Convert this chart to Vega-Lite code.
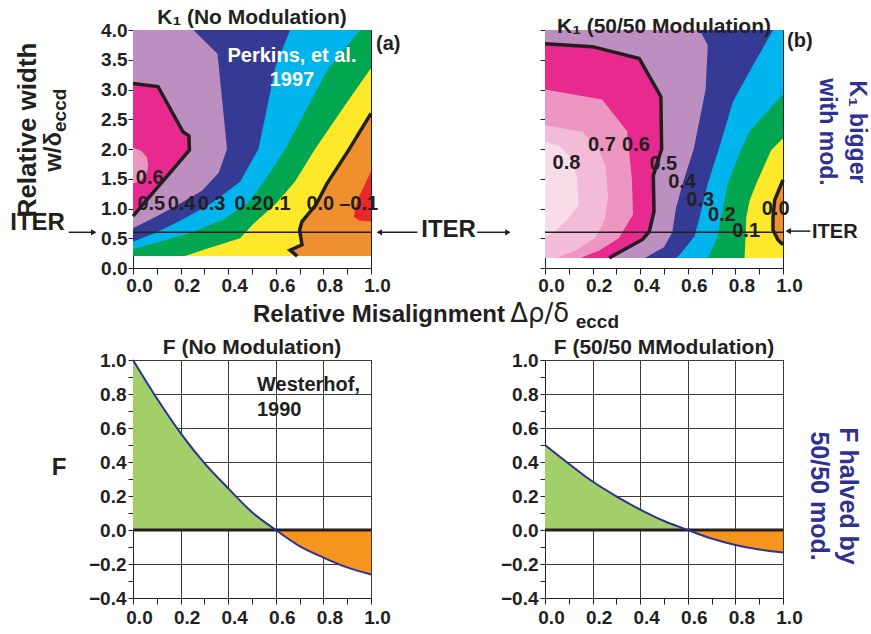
{
"$schema": "https://vega.github.io/schema/vega-lite/v6.json",
"autosize": {"type": "none"},
"padding": {"left": 133, "top": 30, "right": 738, "bottom": 604},
"background": "white",
"config": {
  "font": "Liberation Sans",
  "view": {"stroke": "#231f20", "strokeWidth": 1},
  "axis": {"labelFont": "Liberation Sans", "labelFontSize": 19, "labelFontWeight": "bold", "labelColor": "#231f20", "tickColor": "#231f20", "domainColor": "#231f20", "tickWidth": 1, "domainWidth": 1, "labelFlush": false, "labelOverlap": false, "zindex": 1},
  "title": {"font": "Liberation Sans", "fontSize": 21, "fontWeight": "bold", "color": "#231f20", "frame": "group", "anchor": "middle", "offset": 5, "dy": 12, "baseline": "alphabetic"},
  "text": {"font": "Liberation Sans", "fontWeight": "bold", "color": "#231f20"}
},
"datasets": {
  "contours": [
    {"p":"a","lv":0.7,"x":0,"y":4},{"p":"a","lv":0.7,"x":0,"y":0.2},
    {"p":"a","lv":0.6,"x":0,"y":4},{"p":"a","lv":0.6,"x":0,"y":2.02},{"p":"a","lv":0.6,"x":0.035,"y":1.97},{"p":"a","lv":0.6,"x":0.058,"y":1.86},{"p":"a","lv":0.6,"x":0.064,"y":1.72},{"p":"a","lv":0.6,"x":0.056,"y":1.57},{"p":"a","lv":0.6,"x":0.033,"y":1.47},{"p":"a","lv":0.6,"x":0,"y":1.42},{"p":"a","lv":0.6,"x":0,"y":0.2},
    {"p":"a","lv":0.5,"x":0,"y":4},{"p":"a","lv":0.5,"x":0,"y":3.1},{"p":"a","lv":0.5,"x":0.105,"y":3.05},{"p":"a","lv":0.5,"x":0.21,"y":2.29},{"p":"a","lv":0.5,"x":0.235,"y":2.22},{"p":"a","lv":0.5,"x":0.237,"y":1.98},{"p":"a","lv":0.5,"x":0,"y":0.87},{"p":"a","lv":0.5,"x":0,"y":0.2},
    {"p":"a","lv":0.4,"x":0.253,"y":4},{"p":"a","lv":0.4,"x":0.355,"y":3.6},{"p":"a","lv":0.4,"x":0.395,"y":2.0},{"p":"a","lv":0.4,"x":0.36,"y":1.6},{"p":"a","lv":0.4,"x":0.29,"y":1.3},{"p":"a","lv":0.4,"x":0.2,"y":1.09},{"p":"a","lv":0.4,"x":0.1,"y":0.87},{"p":"a","lv":0.4,"x":0,"y":0.67},{"p":"a","lv":0.4,"x":0,"y":0.2},
    {"p":"a","lv":0.3,"x":0.66,"y":4},{"p":"a","lv":0.3,"x":0.6,"y":3.4},{"p":"a","lv":0.3,"x":0.527,"y":2.0},{"p":"a","lv":0.3,"x":0.45,"y":1.45},{"p":"a","lv":0.3,"x":0.33,"y":1.09},{"p":"a","lv":0.3,"x":0.2,"y":0.8},{"p":"a","lv":0.3,"x":0.1,"y":0.6},{"p":"a","lv":0.3,"x":0,"y":0.44},{"p":"a","lv":0.3,"x":0,"y":0.2},
    {"p":"a","lv":0.2,"x":0.955,"y":4},{"p":"a","lv":0.2,"x":0.82,"y":3.35},{"p":"a","lv":0.2,"x":0.64,"y":2.0},{"p":"a","lv":0.2,"x":0.55,"y":1.45},{"p":"a","lv":0.2,"x":0.485,"y":1.1},{"p":"a","lv":0.2,"x":0.38,"y":0.82},{"p":"a","lv":0.2,"x":0.25,"y":0.6},{"p":"a","lv":0.2,"x":0.12,"y":0.45},{"p":"a","lv":0.2,"x":0,"y":0.32},{"p":"a","lv":0.2,"x":0,"y":0.2},
    {"p":"a","lv":0.1,"x":1,"y":4},{"p":"a","lv":0.1,"x":1,"y":3.36},{"p":"a","lv":0.1,"x":0.885,"y":2.7},{"p":"a","lv":0.1,"x":0.765,"y":2.0},{"p":"a","lv":0.1,"x":0.68,"y":1.45},{"p":"a","lv":0.1,"x":0.6,"y":1.08},{"p":"a","lv":0.1,"x":0.5,"y":0.72},{"p":"a","lv":0.1,"x":0.45,"y":0.5},{"p":"a","lv":0.1,"x":0.3,"y":0.31},{"p":"a","lv":0.1,"x":0.218,"y":0.2},
    {"p":"a","lv":0,"x":1,"y":4},{"p":"a","lv":0,"x":1,"y":2.6},{"p":"a","lv":0,"x":0.906,"y":1.98},{"p":"a","lv":0,"x":0.815,"y":1.42},{"p":"a","lv":0,"x":0.77,"y":1.07},{"p":"a","lv":0,"x":0.71,"y":0.78},{"p":"a","lv":0,"x":0.7,"y":0.64},{"p":"a","lv":0,"x":0.71,"y":0.39},{"p":"a","lv":0,"x":0.66,"y":0.3},{"p":"a","lv":0,"x":0.69,"y":0.2},
    {"p":"a","lv":-0.1,"x":1,"y":4},{"p":"a","lv":-0.1,"x":1,"y":1.62},{"p":"a","lv":-0.1,"x":0.95,"y":1.2},{"p":"a","lv":-0.1,"x":0.935,"y":1.0},{"p":"a","lv":-0.1,"x":0.927,"y":0.86},{"p":"a","lv":-0.1,"x":0.95,"y":0.8},{"p":"a","lv":-0.1,"x":1,"y":0.78},{"p":"a","lv":-0.1,"x":1,"y":0.2},
    {"p":"b","lv":0.9,"x":0,"y":4},{"p":"b","lv":0.9,"x":0,"y":0.17},
    {"p":"b","lv":0.8,"x":0,"y":4},{"p":"b","lv":0.8,"x":0,"y":2.12},{"p":"b","lv":0.8,"x":0.06,"y":2.05},{"p":"b","lv":0.8,"x":0.11,"y":1.85},{"p":"b","lv":0.8,"x":0.135,"y":1.5},{"p":"b","lv":0.8,"x":0.14,"y":1.05},{"p":"b","lv":0.8,"x":0.09,"y":0.8},{"p":"b","lv":0.8,"x":0.03,"y":0.58},{"p":"b","lv":0.8,"x":0,"y":0.52},{"p":"b","lv":0.8,"x":0,"y":0.17},
    {"p":"b","lv":0.7,"x":0,"y":4},{"p":"b","lv":0.7,"x":0,"y":2.4},{"p":"b","lv":0.7,"x":0.157,"y":2.29},{"p":"b","lv":0.7,"x":0.228,"y":1.98},{"p":"b","lv":0.7,"x":0.255,"y":1.7},{"p":"b","lv":0.7,"x":0.265,"y":1.2},{"p":"b","lv":0.7,"x":0.25,"y":0.8},{"p":"b","lv":0.7,"x":0.21,"y":0.5},{"p":"b","lv":0.7,"x":0.13,"y":0.3},{"p":"b","lv":0.7,"x":0.05,"y":0.17},
    {"p":"b","lv":0.6,"x":0,"y":4},{"p":"b","lv":0.6,"x":0,"y":3.0},{"p":"b","lv":0.6,"x":0.24,"y":2.83},{"p":"b","lv":0.6,"x":0.345,"y":2.3},{"p":"b","lv":0.6,"x":0.365,"y":1.5},{"p":"b","lv":0.6,"x":0.37,"y":0.9},{"p":"b","lv":0.6,"x":0.31,"y":0.5},{"p":"b","lv":0.6,"x":0.23,"y":0.3},{"p":"b","lv":0.6,"x":0.15,"y":0.17},
    {"p":"b","lv":0.5,"x":0,"y":4},{"p":"b","lv":0.5,"x":0,"y":3.77},{"p":"b","lv":0.5,"x":0.2,"y":3.72},{"p":"b","lv":0.5,"x":0.396,"y":3.52},{"p":"b","lv":0.5,"x":0.487,"y":2.88},{"p":"b","lv":0.5,"x":0.49,"y":2.0},{"p":"b","lv":0.5,"x":0.455,"y":1.55},{"p":"b","lv":0.5,"x":0.458,"y":0.95},{"p":"b","lv":0.5,"x":0.438,"y":0.61},{"p":"b","lv":0.5,"x":0.41,"y":0.48},{"p":"b","lv":0.5,"x":0.27,"y":0.17},
    {"p":"b","lv":0.4,"x":0.649,"y":4},{"p":"b","lv":0.4,"x":0.684,"y":3.75},{"p":"b","lv":0.4,"x":0.675,"y":3.0},{"p":"b","lv":0.4,"x":0.625,"y":2.0},{"p":"b","lv":0.4,"x":0.58,"y":1.44},{"p":"b","lv":0.4,"x":0.55,"y":1.0},{"p":"b","lv":0.4,"x":0.535,"y":0.6},{"p":"b","lv":0.4,"x":0.5,"y":0.35},{"p":"b","lv":0.4,"x":0.42,"y":0.17},
    {"p":"b","lv":0.3,"x":0.958,"y":4},{"p":"b","lv":0.3,"x":0.89,"y":3.52},{"p":"b","lv":0.3,"x":0.79,"y":2.8},{"p":"b","lv":0.3,"x":0.73,"y":2.0},{"p":"b","lv":0.3,"x":0.684,"y":1.42},{"p":"b","lv":0.3,"x":0.65,"y":0.86},{"p":"b","lv":0.3,"x":0.628,"y":0.53},{"p":"b","lv":0.3,"x":0.565,"y":0.22},{"p":"b","lv":0.3,"x":0.55,"y":0.17},
    {"p":"b","lv":0.2,"x":1,"y":4},{"p":"b","lv":0.2,"x":1,"y":2.92},{"p":"b","lv":0.2,"x":0.86,"y":2.3},{"p":"b","lv":0.2,"x":0.825,"y":2.0},{"p":"b","lv":0.2,"x":0.768,"y":1.42},{"p":"b","lv":0.2,"x":0.74,"y":0.86},{"p":"b","lv":0.2,"x":0.726,"y":0.53},{"p":"b","lv":0.2,"x":0.69,"y":0.22},{"p":"b","lv":0.2,"x":0.68,"y":0.17},
    {"p":"b","lv":0.1,"x":1,"y":4},{"p":"b","lv":0.1,"x":1,"y":2.18},{"p":"b","lv":0.1,"x":0.95,"y":1.98},{"p":"b","lv":0.1,"x":0.888,"y":1.42},{"p":"b","lv":0.1,"x":0.86,"y":1.14},{"p":"b","lv":0.1,"x":0.846,"y":0.86},{"p":"b","lv":0.1,"x":0.84,"y":0.3},{"p":"b","lv":0.1,"x":0.838,"y":0.17},
    {"p":"b","lv":0,"x":1,"y":4},{"p":"b","lv":0,"x":1,"y":1.48},{"p":"b","lv":0,"x":0.965,"y":1.14},{"p":"b","lv":0,"x":0.958,"y":0.86},{"p":"b","lv":0,"x":0.958,"y":0.64},{"p":"b","lv":0,"x":0.979,"y":0.47},{"p":"b","lv":0,"x":1,"y":0.39},{"p":"b","lv":0,"x":1,"y":0.17}
  ],
  "klines": [
    {"p":"a","id":"a1","x":0,"y":3.1},{"p":"a","id":"a1","x":0.105,"y":3.05},{"p":"a","id":"a1","x":0.21,"y":2.29},{"p":"a","id":"a1","x":0.235,"y":2.22},{"p":"a","id":"a1","x":0.237,"y":1.98},{"p":"a","id":"a1","x":0,"y":0.87},
    {"p":"a","id":"a2","x":1,"y":2.6},{"p":"a","id":"a2","x":0.906,"y":1.98},{"p":"a","id":"a2","x":0.815,"y":1.42},{"p":"a","id":"a2","x":0.77,"y":1.07},{"p":"a","id":"a2","x":0.71,"y":0.78},{"p":"a","id":"a2","x":0.7,"y":0.64},{"p":"a","id":"a2","x":0.71,"y":0.39},{"p":"a","id":"a2","x":0.66,"y":0.3},{"p":"a","id":"a2","x":0.69,"y":0.2},
    {"p":"b","id":"b1","x":0,"y":3.77},{"p":"b","id":"b1","x":0.2,"y":3.72},{"p":"b","id":"b1","x":0.396,"y":3.52},{"p":"b","id":"b1","x":0.487,"y":2.88},{"p":"b","id":"b1","x":0.49,"y":2.0},{"p":"b","id":"b1","x":0.455,"y":1.55},{"p":"b","id":"b1","x":0.458,"y":0.95},{"p":"b","id":"b1","x":0.438,"y":0.61},{"p":"b","id":"b1","x":0.41,"y":0.48},{"p":"b","id":"b1","x":0.27,"y":0.17},
    {"p":"b","id":"b2","x":1,"y":1.48},{"p":"b","id":"b2","x":0.965,"y":1.14},{"p":"b","id":"b2","x":0.958,"y":0.86},{"p":"b","id":"b2","x":0.958,"y":0.64},{"p":"b","id":"b2","x":0.979,"y":0.47},{"p":"b","id":"b2","x":1,"y":0.39}
  ],
  "iter": [{"y": 0.6}],
  "zero": [{"f": 0}],
  "arrows": [
    {"p":"a","x":-0.27,"x2":-0.165,"y":0.6,"head":"r"},
    {"p":"a","x":1.035,"x2":1.195,"y":0.6,"head":"l"},
    {"p":"a","x":1.446,"x2":1.575,"y":0.6,"head":"r"},
    {"p":"b","x":1.022,"x2":1.115,"y":0.62,"head":"l"}
  ],
  "F": [
    {"p":"c","x":0,"f":1.0},{"p":"c","x":0.1,"f":0.775},{"p":"c","x":0.2,"f":0.57},{"p":"c","x":0.3,"f":0.393},{"p":"c","x":0.4,"f":0.245},{"p":"c","x":0.5,"f":0.105},{"p":"c","x":0.6,"f":0},{"p":"c","x":0.7,"f":-0.095},{"p":"c","x":0.8,"f":-0.162},{"p":"c","x":0.9,"f":-0.22},{"p":"c","x":1,"f":-0.262},
    {"p":"d","x":0,"f":0.5},{"p":"d","x":0.1,"f":0.39},{"p":"d","x":0.2,"f":0.285},{"p":"d","x":0.3,"f":0.198},{"p":"d","x":0.4,"f":0.12},{"p":"d","x":0.5,"f":0.053},{"p":"d","x":0.6,"f":0},{"p":"d","x":0.7,"f":-0.05},{"p":"d","x":0.8,"f":-0.088},{"p":"d","x":0.9,"f":-0.115},{"p":"d","x":1,"f":-0.132}
  ],
  "notes": [
    {"p":"a","k":"lbl","t":"0.6","x":0.07,"y":1.52},
    {"p":"a","k":"lbl","t":"0.5","x":0.077,"y":1.076},
    {"p":"a","k":"lbl","t":"0.4","x":0.204,"y":1.076},
    {"p":"a","k":"lbl","t":"0.3","x":0.33,"y":1.076},
    {"p":"a","k":"lbl","t":"0.2","x":0.485,"y":1.076},
    {"p":"a","k":"lbl","t":"0.1","x":0.604,"y":1.076},
    {"p":"a","k":"lbl","t":"0.0","x":0.787,"y":1.076},
    {"p":"a","k":"lbl","t":"–0.1","x":0.948,"y":1.076},
    {"p":"a","k":"tag","t":"(a)","x":1.021,"y":3.664},
    {"p":"a","k":"ref","t":"Perkins, et al.\n1997","x":0.668,"y":3.462},
    {"p":"a","k":"yt","t":"Relative width","x":-0.408,"y":2.32},
    {"p":"a","k":"yt2","t":"w/δ","x":-0.3025,"y":2.286},
    {"p":"a","k":"yt2s","t":"eccd","x":-0.3025,"y":2.286},
    {"p":"a","k":"iterL","t":"ITER","x":-0.286,"y":0.639},
    {"p":"a","k":"iterC","t":"ITER","x":1.326,"y":0.526},
    {"p":"a","k":"xt","t":"Relative Misalignment","x":0.504,"y":-0.908},
    {"p":"a","k":"xt2","t":"Δρ/δ","x":1.585,"y":-0.908},
    {"p":"a","k":"xt2s","t":"eccd","x":1.86,"y":-1.008},
    {"p":"b","k":"lbl","t":"0.8","x":0.09,"y":1.76},
    {"p":"b","k":"lbl","t":"0.7","x":0.239,"y":2.07},
    {"p":"b","k":"lbl","t":"0.6","x":0.382,"y":2.07},
    {"p":"b","k":"lbl","t":"0.5","x":0.497,"y":1.75},
    {"p":"b","k":"lbl","t":"0.4","x":0.576,"y":1.44},
    {"p":"b","k":"lbl","t":"0.3","x":0.652,"y":1.14},
    {"p":"b","k":"lbl","t":"0.2","x":0.743,"y":0.89},
    {"p":"b","k":"lbl","t":"0.1","x":0.845,"y":0.62},
    {"p":"b","k":"lbl","t":"0.0","x":0.969,"y":1.0},
    {"p":"b","k":"tag","t":"(b)","x":1.017,"y":3.714},
    {"p":"b","k":"iterR","t":"ITER","x":1.122,"y":0.504},
    {"p":"b","k":"side","t":"K₁ bigger\nwith mod.","x":1.28,"y":2.286},
    {"p":"c","k":"ref","t":"Westerhof,\n1990","x":0.521,"y":0.818},
    {"p":"c","k":"yt","t":"F","x":-0.311,"y":0.365},
    {"p":"d","k":"side","t":"F halved by\n50/50 mod.","x":1.239,"y":0.2}
  ]
},
"columns": 2,
"bounds": "flush",
"spacing": {"row": 92, "column": 174},
"resolve": {"scale": {"x": "independent", "y": "independent", "color": "independent"}},
"concat": [
  {
    "width": 238, "height": 238,
    "title": {"text": "K₁ (No Modulation)"},
    "layer": [
      {"data": {"name": "contours"}, "transform": [{"filter": "datum.p=='a'"}],
       "mark": {"type": "area", "orient": "horizontal"},
       "encoding": {
         "y": {"field": "y", "type": "quantitative", "scale": {"domain": [0, 4], "nice": false, "zero": false},
               "axis": {"title": null, "values": [0,0.5,1,1.5,2,2.5,3,3.5,4], "tickCount": 40, "format": ".1f", "tickSize": 5, "labelPadding": 1, "labelOverlap": false, "grid": false}},
         "x": {"field": "x", "type": "quantitative", "scale": {"domain": [0, 1], "nice": false, "zero": false},
               "axis": {"title": null, "values": [0,0.1,0.2,0.3,0.4,0.5,0.6,0.7,0.8,0.9,1], "tickCount": 40, "labelExpr": "round(datum.value*10)%2==0 ? format(datum.value,'.1f') : ''", "tickSize": 6, "labelPadding": 2, "labelOffset": 6, "labelOverlap": false, "grid": false}},
         "x2": {"datum": 1},
         "color": {"field": "lv", "type": "ordinal", "legend": null,
                   "scale": {"domain": [0.9,0.8,0.7,0.6,0.5,0.4,0.3,0.2,0.1,0,-0.1], "range": ["#f8dde9","#f3bcd6","#ee96c2","#e8298e","#bd8ec0","#353b95","#00b4ed","#00a650","#fde82a","#f08f2e","#e8282b"]}}
       }},
      {"data": {"name": "klines"}, "transform": [{"filter": "datum.p=='a'"}],
       "mark": {"type": "line", "color": "#231f20", "strokeWidth": 3.5},
       "encoding": {"x": {"field": "x", "type": "quantitative"}, "y": {"field": "y", "type": "quantitative"}, "detail": {"field": "id"}, "order": {"field": "y", "type": "quantitative"}}},
      {"data": {"name": "iter"}, "mark": {"type": "rule", "color": "#231f20", "strokeWidth": 1.5},
       "encoding": {"y": {"field": "y", "type": "quantitative"}}},
      {"data": {"name": "arrows"}, "transform": [{"filter": "datum.p=='a'"}],
       "mark": {"type": "rule", "color": "#231f20", "strokeWidth": 1.5},
       "encoding": {"x": {"field": "x", "type": "quantitative"}, "x2": {"field": "x2"}, "y": {"field": "y", "type": "quantitative"}}},
      {"data": {"name": "arrows"}, "transform": [{"filter": "datum.p=='a' && datum.head=='r'"}],
       "mark": {"type": "point", "shape": "triangle-right", "filled": true, "color": "#231f20", "size": 40, "opacity": 1},
       "encoding": {"x": {"field": "x2", "type": "quantitative"}, "y": {"field": "y", "type": "quantitative"}}},
      {"data": {"name": "arrows"}, "transform": [{"filter": "datum.p=='a' && datum.head=='l'"}],
       "mark": {"type": "point", "shape": "triangle-left", "filled": true, "color": "#231f20", "size": 40, "opacity": 1},
       "encoding": {"x": {"field": "x", "type": "quantitative"}, "y": {"field": "y", "type": "quantitative"}}},
      {"data": {"name": "notes"}, "transform": [{"filter": "datum.p=='a' && datum.k=='lbl'"}],
       "mark": {"type": "text", "fontSize": 20, "align": "center", "baseline": "middle"},
       "encoding": {"x": {"field": "x", "type": "quantitative"}, "y": {"field": "y", "type": "quantitative"}, "text": {"field": "t"}}},
      {"data": {"name": "notes"}, "transform": [{"filter": "datum.p=='a' && datum.k=='tag'"}],
       "mark": {"type": "text", "fontSize": 20, "align": "left", "baseline": "alphabetic"},
       "encoding": {"x": {"field": "x", "type": "quantitative"}, "y": {"field": "y", "type": "quantitative"}, "text": {"field": "t"}}},
      {"data": {"name": "notes"}, "transform": [{"filter": "datum.p=='a' && datum.k=='ref'"}],
       "mark": {"type": "text", "fontSize": 20, "align": "center", "baseline": "alphabetic", "color": "white", "lineBreak": "\n", "lineHeight": 24},
       "encoding": {"x": {"field": "x", "type": "quantitative"}, "y": {"field": "y", "type": "quantitative"}, "text": {"field": "t"}}},
      {"data": {"name": "notes"}, "transform": [{"filter": "datum.p=='a' && datum.k=='yt'"}],
       "mark": {"type": "text", "fontSize": 26, "angle": 270, "align": "center", "baseline": "alphabetic"},
       "encoding": {"x": {"field": "x", "type": "quantitative"}, "y": {"field": "y", "type": "quantitative"}, "text": {"field": "t"}}},
      {"data": {"name": "notes"}, "transform": [{"filter": "datum.p=='a' && datum.k=='yt2'"}],
       "mark": {"type": "text", "fontSize": 24, "angle": 270, "align": "right", "baseline": "alphabetic"},
       "encoding": {"x": {"field": "x", "type": "quantitative"}, "y": {"field": "y", "type": "quantitative"}, "text": {"field": "t"}}},
      {"data": {"name": "notes"}, "transform": [{"filter": "datum.p=='a' && datum.k=='yt2s'"}],
       "mark": {"type": "text", "fontSize": 19, "angle": 270, "align": "left", "baseline": "alphabetic", "dy": 5},
       "encoding": {"x": {"field": "x", "type": "quantitative"}, "y": {"field": "y", "type": "quantitative"}, "text": {"field": "t"}}},
      {"data": {"name": "notes"}, "transform": [{"filter": "datum.p=='a' && datum.k=='iterL'"}],
       "mark": {"type": "text", "fontSize": 24, "align": "right", "baseline": "alphabetic"},
       "encoding": {"x": {"field": "x", "type": "quantitative"}, "y": {"field": "y", "type": "quantitative"}, "text": {"field": "t"}}},
      {"data": {"name": "notes"}, "transform": [{"filter": "datum.p=='a' && datum.k=='iterC'"}],
       "mark": {"type": "text", "fontSize": 24, "align": "center", "baseline": "alphabetic"},
       "encoding": {"x": {"field": "x", "type": "quantitative"}, "y": {"field": "y", "type": "quantitative"}, "text": {"field": "t"}}},
      {"data": {"name": "notes"}, "transform": [{"filter": "datum.p=='a' && datum.k=='xt'"}],
       "mark": {"type": "text", "fontSize": 24, "align": "left", "baseline": "alphabetic"},
       "encoding": {"x": {"field": "x", "type": "quantitative"}, "y": {"field": "y", "type": "quantitative"}, "text": {"field": "t"}}},
      {"data": {"name": "notes"}, "transform": [{"filter": "datum.p=='a' && datum.k=='xt2'"}],
       "mark": {"type": "text", "fontSize": 26, "font": "DejaVu Sans", "fontWeight": "normal", "align": "left", "baseline": "alphabetic"},
       "encoding": {"x": {"field": "x", "type": "quantitative"}, "y": {"field": "y", "type": "quantitative"}, "text": {"field": "t"}}},
      {"data": {"name": "notes"}, "transform": [{"filter": "datum.p=='a' && datum.k=='xt2s'"}],
       "mark": {"type": "text", "fontSize": 19, "align": "left", "baseline": "alphabetic"},
       "encoding": {"x": {"field": "x", "type": "quantitative"}, "y": {"field": "y", "type": "quantitative"}, "text": {"field": "t"}}}
    ]
  },
  {
    "width": 238, "height": 238,
    "title": {"text": "K₁ (50/50 Modulation)"},
    "layer": [
      {"data": {"name": "contours"}, "transform": [{"filter": "datum.p=='b'"}],
       "mark": {"type": "area", "orient": "horizontal"},
       "encoding": {
         "y": {"field": "y", "type": "quantitative", "scale": {"domain": [0, 4], "nice": false, "zero": false},
               "axis": {"title": null, "values": [0,0.5,1,1.5,2,2.5,3,3.5,4], "tickCount": 40, "labels": false, "tickSize": 5, "grid": false}},
         "x": {"field": "x", "type": "quantitative", "scale": {"domain": [0, 1], "nice": false, "zero": false},
               "axis": {"title": null, "values": [0,0.1,0.2,0.3,0.4,0.5,0.6,0.7,0.8,0.9,1], "tickCount": 40, "labelExpr": "round(datum.value*10)%2==0 ? format(datum.value,'.1f') : ''", "tickSize": 6, "labelPadding": 2, "labelOffset": 6, "labelOverlap": false, "grid": false}},
         "x2": {"datum": 1},
         "color": {"field": "lv", "type": "ordinal", "legend": null,
                   "scale": {"domain": [0.9,0.8,0.7,0.6,0.5,0.4,0.3,0.2,0.1,0,-0.1], "range": ["#f8dde9","#f3bcd6","#ee96c2","#e8298e","#bd8ec0","#353b95","#00b4ed","#00a650","#fde82a","#f08f2e","#e8282b"]}}
       }},
      {"data": {"name": "klines"}, "transform": [{"filter": "datum.p=='b'"}],
       "mark": {"type": "line", "color": "#231f20", "strokeWidth": 3.5},
       "encoding": {"x": {"field": "x", "type": "quantitative"}, "y": {"field": "y", "type": "quantitative"}, "detail": {"field": "id"}, "order": {"field": "y", "type": "quantitative"}}},
      {"data": {"name": "iter"}, "mark": {"type": "rule", "color": "#231f20", "strokeWidth": 1.5},
       "encoding": {"y": {"field": "y", "type": "quantitative"}}},
      {"data": {"name": "arrows"}, "transform": [{"filter": "datum.p=='b'"}],
       "mark": {"type": "rule", "color": "#231f20", "strokeWidth": 1.5},
       "encoding": {"x": {"field": "x", "type": "quantitative"}, "x2": {"field": "x2"}, "y": {"field": "y", "type": "quantitative"}}},
      {"data": {"name": "arrows"}, "transform": [{"filter": "datum.p=='b' && datum.head=='l'"}],
       "mark": {"type": "point", "shape": "triangle-left", "filled": true, "color": "#231f20", "size": 40, "opacity": 1},
       "encoding": {"x": {"field": "x", "type": "quantitative"}, "y": {"field": "y", "type": "quantitative"}}},
      {"data": {"name": "notes"}, "transform": [{"filter": "datum.p=='b' && datum.k=='lbl'"}],
       "mark": {"type": "text", "fontSize": 20, "align": "center", "baseline": "middle"},
       "encoding": {"x": {"field": "x", "type": "quantitative"}, "y": {"field": "y", "type": "quantitative"}, "text": {"field": "t"}}},
      {"data": {"name": "notes"}, "transform": [{"filter": "datum.p=='b' && datum.k=='tag'"}],
       "mark": {"type": "text", "fontSize": 20, "align": "left", "baseline": "alphabetic"},
       "encoding": {"x": {"field": "x", "type": "quantitative"}, "y": {"field": "y", "type": "quantitative"}, "text": {"field": "t"}}},
      {"data": {"name": "notes"}, "transform": [{"filter": "datum.p=='b' && datum.k=='iterR'"}],
       "mark": {"type": "text", "fontSize": 20, "align": "left", "baseline": "alphabetic"},
       "encoding": {"x": {"field": "x", "type": "quantitative"}, "y": {"field": "y", "type": "quantitative"}, "text": {"field": "t"}}},
      {"data": {"name": "notes"}, "transform": [{"filter": "datum.p=='b' && datum.k=='side'"}],
       "mark": {"type": "text", "fontSize": 23, "angle": 90, "align": "center", "baseline": "alphabetic", "color": "#2e3192", "lineBreak": "\n", "lineHeight": 30},
       "encoding": {"x": {"field": "x", "type": "quantitative"}, "y": {"field": "y", "type": "quantitative"}, "text": {"field": "t"}}}
    ]
  },
  {
    "width": 238, "height": 238,
    "title": {"text": "F (No Modulation)"},
    "layer": [
      {"data": {"name": "F"}, "transform": [{"filter": "datum.p=='c' && datum.x<=0.6"}],
       "mark": {"type": "area", "color": "#a2cf6a", "interpolate": "monotone"},
       "encoding": {
         "x": {"field": "x", "type": "quantitative", "scale": {"domain": [0, 1], "nice": false, "zero": false},
               "axis": {"title": null, "values": [0,0.1,0.2,0.3,0.4,0.5,0.6,0.7,0.8,0.9,1], "tickCount": 40, "labelExpr": "round(datum.value*10)%2==0 ? format(datum.value,'.1f') : ''", "tickSize": 6, "labelPadding": 4, "labelOffset": 6, "labelOverlap": false, "grid": true, "gridColor": "#3a3a3a", "gridWidth": 1, "gridOpacity": {"condition": {"test": "round(datum.value*10)%2==0", "value": 1}, "value": 0}}},
         "y": {"field": "f", "type": "quantitative", "scale": {"domain": [-0.4, 1], "nice": false, "zero": false},
               "axis": {"title": null, "values": [-0.4,-0.3,-0.2,-0.1,0,0.1,0.2,0.3,0.4,0.5,0.6,0.7,0.8,0.9,1], "tickCount": 40, "labelExpr": "round(datum.value*10)%2==0 ? format(datum.value,'.1f') : ''", "tickSize": 5, "labelPadding": 2, "labelOverlap": false, "grid": true, "gridColor": "#3a3a3a", "gridWidth": 1, "gridOpacity": {"condition": {"test": "round(datum.value*10)%2==0", "value": 1}, "value": 0}}},
         "y2": {"datum": 0}
       }},
      {"data": {"name": "F"}, "transform": [{"filter": "datum.p=='c' && datum.x>=0.6"}],
       "mark": {"type": "area", "color": "#f7941d", "interpolate": "monotone"},
       "encoding": {"x": {"field": "x", "type": "quantitative"}, "y": {"field": "f", "type": "quantitative"}, "y2": {"datum": 0}}},
      {"data": {"name": "zero"}, "mark": {"type": "rule", "color": "#231f20", "strokeWidth": 3},
       "encoding": {"y": {"field": "f", "type": "quantitative"}}},
      {"data": {"name": "F"}, "transform": [{"filter": "datum.p=='c'"}],
       "mark": {"type": "line", "color": "#2e3192", "strokeWidth": 2, "interpolate": "monotone"},
       "encoding": {"x": {"field": "x", "type": "quantitative"}, "y": {"field": "f", "type": "quantitative"}}},
      {"data": {"name": "notes"}, "transform": [{"filter": "datum.p=='c' && datum.k=='ref'"}],
       "mark": {"type": "text", "fontSize": 20, "align": "left", "baseline": "alphabetic", "lineBreak": "\n", "lineHeight": 25},
       "encoding": {"x": {"field": "x", "type": "quantitative"}, "y": {"field": "y", "type": "quantitative"}, "text": {"field": "t"}}},
      {"data": {"name": "notes"}, "transform": [{"filter": "datum.p=='c' && datum.k=='yt'"}],
       "mark": {"type": "text", "fontSize": 24, "align": "center", "baseline": "middle"},
       "encoding": {"x": {"field": "x", "type": "quantitative"}, "y": {"field": "y", "type": "quantitative"}, "text": {"field": "t"}}}
    ]
  },
  {
    "width": 238, "height": 238,
    "title": {"text": "F (50/50 MModulation)"},
    "layer": [
      {"data": {"name": "F"}, "transform": [{"filter": "datum.p=='d' && datum.x<=0.6"}],
       "mark": {"type": "area", "color": "#a2cf6a", "interpolate": "monotone"},
       "encoding": {
         "x": {"field": "x", "type": "quantitative", "scale": {"domain": [0, 1], "nice": false, "zero": false},
               "axis": {"title": null, "values": [0,0.1,0.2,0.3,0.4,0.5,0.6,0.7,0.8,0.9,1], "tickCount": 40, "labelExpr": "round(datum.value*10)%2==0 ? format(datum.value,'.1f') : ''", "tickSize": 6, "labelPadding": 4, "labelOffset": 6, "labelOverlap": false, "grid": true, "gridColor": "#3a3a3a", "gridWidth": 1, "gridOpacity": {"condition": {"test": "round(datum.value*10)%2==0", "value": 1}, "value": 0}}},
         "y": {"field": "f", "type": "quantitative", "scale": {"domain": [-0.4, 1], "nice": false, "zero": false},
               "axis": {"title": null, "values": [-0.4,-0.3,-0.2,-0.1,0,0.1,0.2,0.3,0.4,0.5,0.6,0.7,0.8,0.9,1], "tickCount": 40, "labelExpr": "round(datum.value*10)%2==0 ? format(datum.value,'.1f') : ''", "tickSize": 5, "labelPadding": 2, "labelOverlap": false, "grid": true, "gridColor": "#3a3a3a", "gridWidth": 1, "gridOpacity": {"condition": {"test": "round(datum.value*10)%2==0", "value": 1}, "value": 0}}},
         "y2": {"datum": 0}
       }},
      {"data": {"name": "F"}, "transform": [{"filter": "datum.p=='d' && datum.x>=0.6"}],
       "mark": {"type": "area", "color": "#f7941d", "interpolate": "monotone"},
       "encoding": {"x": {"field": "x", "type": "quantitative"}, "y": {"field": "f", "type": "quantitative"}, "y2": {"datum": 0}}},
      {"data": {"name": "zero"}, "mark": {"type": "rule", "color": "#231f20", "strokeWidth": 3},
       "encoding": {"y": {"field": "f", "type": "quantitative"}}},
      {"data": {"name": "F"}, "transform": [{"filter": "datum.p=='d'"}],
       "mark": {"type": "line", "color": "#2e3192", "strokeWidth": 2, "interpolate": "monotone"},
       "encoding": {"x": {"field": "x", "type": "quantitative"}, "y": {"field": "f", "type": "quantitative"}}},
      {"data": {"name": "notes"}, "transform": [{"filter": "datum.p=='d' && datum.k=='side'"}],
       "mark": {"type": "text", "fontSize": 25, "angle": 90, "align": "center", "baseline": "alphabetic", "color": "#2e3192", "lineBreak": "\n", "lineHeight": 29},
       "encoding": {"x": {"field": "x", "type": "quantitative"}, "y": {"field": "y", "type": "quantitative"}, "text": {"field": "t"}}}
    ]
  }
]
}
